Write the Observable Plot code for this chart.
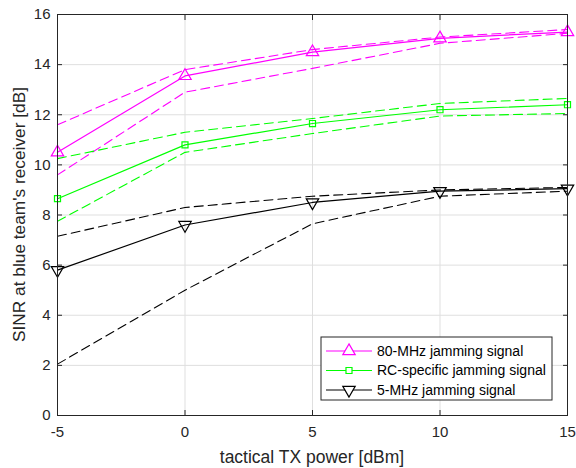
<!DOCTYPE html>
<html>
<head>
<meta charset="utf-8">
<script src="https://cdn.jsdelivr.net/npm/d3@7"></script>
<script src="https://cdn.jsdelivr.net/npm/@observablehq/plot@0.6"></script>
<style>
  html, body { margin: 0; padding: 0; background: #fff; }
  #chart svg { display: block; }
</style>
</head>
<body>
<div id="chart"></div>
<script>
// x-axis: tactical TX power [dBm]
const txPower = [-5, 0, 5, 10, 15];
// 80-MHz jamming signal
const mhz80Mean  = [10.5, 13.55, 14.5, 15.05, 15.3];
const mhz80Upper = [11.6, 13.8, 14.6, 15.1, 15.4];
const mhz80Lower = [9.6, 12.9, 13.85, 14.85, 15.25];
// RC-specific jamming signal
const rcMean  = [8.65, 10.8, 11.65, 12.2, 12.4];
const rcUpper = [10.25, 11.3, 11.85, 12.45, 12.65];
const rcLower = [7.75, 10.5, 11.25, 11.95, 12.05];
// 5-MHz jamming signal
const mhz5Mean  = [5.8, 7.6, 8.5, 8.95, 9.05];
const mhz5Upper = [7.15, 8.3, 8.75, 9.0, 9.1];
const mhz5Lower = [2.05, 5.0, 7.65, 8.75, 8.95];

const seriesNames = ["80-MHz jamming signal", "RC-specific jamming signal", "5-MHz jamming signal"];
const seriesColors = ["#ff00ff", "#00ff00", "#000000"];
const seriesSymbols = ["triangle", "square", "triangle"];
const seriesRotate = [0, 0, 180];
const seriesR = [4.6, 3.4, 4.6];
const yTicks = [0, 2, 4, 6, 8, 10, 12, 14, 16];
const xTicks = [-5, 0, 5, 10, 15];
const xTitle = "tactical TX power [dBm]";
const yTitle = "SINR at blue team's receiver [dB]";

const means = [mhz80Mean, rcMean, mhz5Mean];
const uppers = [mhz80Upper, rcUpper, mhz5Upper];
const lowers = [mhz80Lower, rcLower, mhz5Lower];

const meanRows = [], boundRows = [];
seriesNames.forEach((name, i) => {
  txPower.forEach((x, j) => {
    meanRows.push({series: name, idx: i, x, y: means[i][j]});
    boundRows.push({series: name + " upper", idx: i, x, y: uppers[i][j]});
    boundRows.push({series: name + " lower", idx: i, x, y: lowers[i][j]});
  });
});

const font = "Liberation Sans, Arial, Helvetica, sans-serif";
const axisColor = "#262626";
const W = 576, H = 468, mL = 57, mR = 9, mT = 14, mB = 53;

const chart = Plot.plot({
  width: W,
  height: H,
  marginLeft: mL,
  marginRight: mR,
  marginTop: mT,
  marginBottom: mB,
  style: {fontFamily: font, fontSize: "15px", color: axisColor, background: "#fff"},
  x: {domain: [-5, 15]},
  y: {domain: [0, 16]},
  marks: [
    Plot.gridX(xTicks, {stroke: "#dfdfdf", strokeOpacity: 1}),
    Plot.gridY(yTicks, {stroke: "#dfdfdf", strokeOpacity: 1}),
    // inward ticks on all four sides
    Plot.axisX(xTicks, {anchor: "bottom", tickSize: -5, text: null, label: null, stroke: axisColor}),
    Plot.axisX(xTicks, {anchor: "top", tickSize: -5, text: null, label: null, stroke: axisColor}),
    Plot.axisY(yTicks, {anchor: "left", tickSize: -5, text: null, label: null, stroke: axisColor}),
    Plot.axisY(yTicks, {anchor: "right", tickSize: -5, text: null, label: null, stroke: axisColor}),
    // tick labels
    Plot.axisX(xTicks, {anchor: "bottom", tickSize: 0, tickPadding: 11, fill: axisColor, fontSize: 15,
      tickFormat: d => String(d), label: null}),
    Plot.axisY(yTicks, {anchor: "left", tickSize: 0, tickPadding: 7, fill: axisColor, fontSize: 15,
      tickFormat: d => String(d), label: null}),
    Plot.line(boundRows, {x: "x", y: "y", z: "series", stroke: d => seriesColors[d.idx], strokeWidth: 1.1, strokeDasharray: "9,5"}),
    Plot.line(meanRows, {x: "x", y: "y", z: "series", stroke: d => seriesColors[d.idx], strokeWidth: 1.2}),
    Plot.dot(meanRows, {x: "x", y: "y", symbol: d => seriesSymbols[d.idx], r: d => seriesR[d.idx], rotate: d => seriesRotate[d.idx],
      stroke: d => seriesColors[d.idx], fill: "none", strokeWidth: 1.2}),
    Plot.frame({stroke: axisColor, strokeWidth: 1})
  ],
  symbol: {type: "identity"},
  r: {type: "identity"}
});

const svg = d3.select(chart);
// Axis titles
svg.append("text").attr("x", mL + (W - mL - mR) / 2).attr("y", 457).attr("dy", "0.35em")
  .attr("text-anchor", "middle").attr("font-family", font).attr("font-size", 17.5).attr("fill", axisColor)
  .text(xTitle);
svg.append("text").attr("transform", `translate(19,${mT + (H - mT - mB) / 2}) rotate(-90)`).attr("dy", "0.35em")
  .attr("text-anchor", "middle").attr("font-family", font).attr("font-size", 17.3).attr("fill", axisColor)
  .text(yTitle);

// Legend box (inside the plot area, lower right)
const lg = svg.append("g").attr("font-family", font).attr("font-size", 14).attr("text-anchor", "start");
const lx = 321, ly = 337, lw = 231, lh = 63;
lg.append("rect").attr("x", lx).attr("y", ly).attr("width", lw).attr("height", lh)
  .attr("fill", "#fff").attr("stroke", axisColor).attr("stroke-width", 1);
seriesNames.forEach((name, i) => {
  const cy = ly + 14 + i * 19.5;
  lg.append("line").attr("x1", lx + 5).attr("x2", lx + 51).attr("y1", cy).attr("y2", cy)
    .attr("stroke", seriesColors[i]).attr("stroke-width", 1.2);
  const sym = d3.symbol().type(seriesSymbols[i] === "square" ? d3.symbolSquare : d3.symbolTriangle)
    .size(Math.PI * seriesR[i] * seriesR[i]);
  lg.append("path").attr("d", sym())
    .attr("transform", `translate(${lx + 28},${cy}) rotate(${seriesRotate[i]})`)
    .attr("fill", "#fff").attr("stroke", seriesColors[i]).attr("stroke-width", 1.2);
  lg.append("text").attr("x", lx + 56).attr("y", cy).attr("dy", "0.35em")
    .attr("text-anchor", "start").attr("fill", "#000").text(name);
});

document.getElementById("chart").appendChild(chart);
</script>
</body>
</html>
